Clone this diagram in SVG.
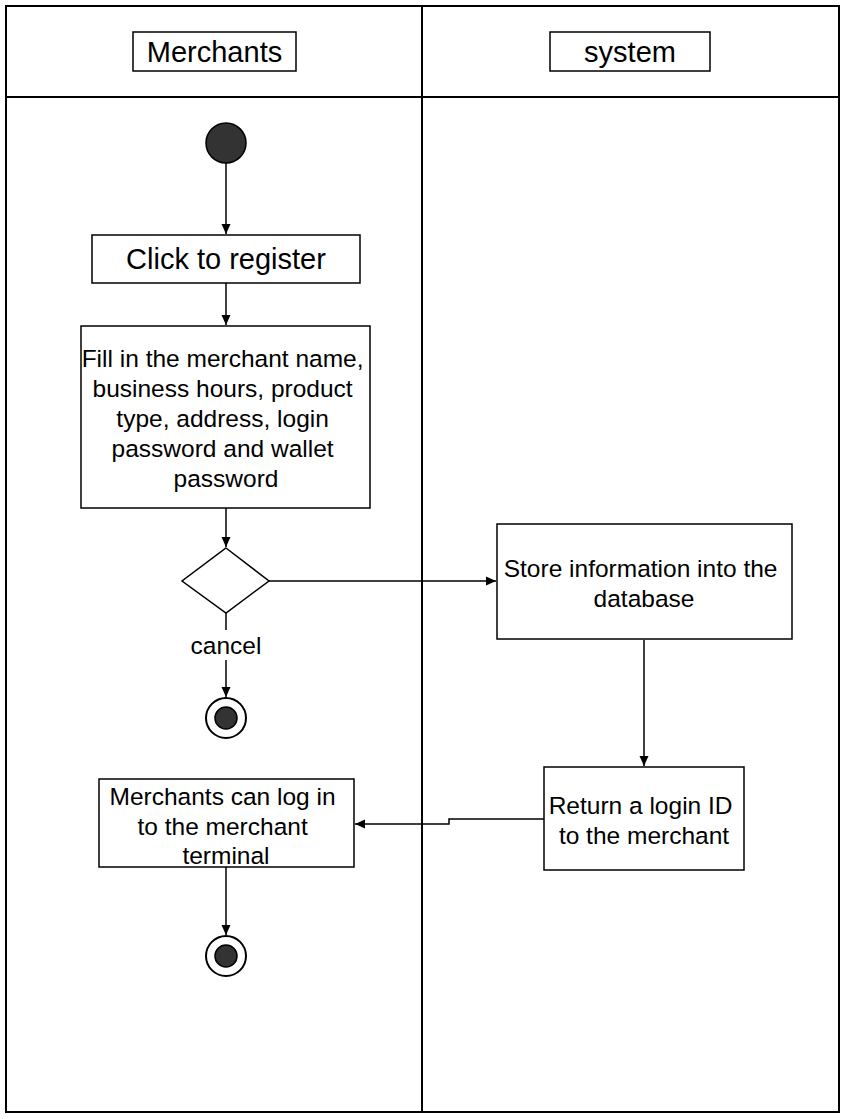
<svg xmlns="http://www.w3.org/2000/svg" width="844" height="1119" viewBox="0 0 844 1119">
<defs>
<style>
.ln{fill:none;stroke:#000;stroke-width:2}
.box{fill:#fff;stroke:#000;stroke-width:1.5}
.t{font-family:"Liberation Sans",Arial,sans-serif;fill:#000;text-anchor:middle}
.t20{font-size:24.5px}
.t26{font-size:29px}
.end{fill:#fff;stroke:#000;stroke-width:2}
.dot{fill:#333;stroke:#000;stroke-width:1.5}
.edge{fill:none;stroke:#000;stroke-width:1.5}
</style>
<marker id="arr" viewBox="0 0 10 10" refX="10" refY="5" markerWidth="10" markerHeight="10" markerUnits="userSpaceOnUse" orient="auto">
<path d="M0,0.5 L10,5 L0,9.5 Z" fill="#000"/>
</marker>
</defs>
<rect width="844" height="1119" fill="#fff"/>
<g id="lanes">
<rect x="6" y="6" width="833" height="1106" class="ln"/>
<line x1="422" y1="6" x2="422" y2="1112" class="ln"/>
<line x1="6" y1="97" x2="839" y2="97" class="ln"/>
</g>
<g id="lane-merchants">
<rect x="133" y="32" width="163" height="39" class="box"/>
<text x="214.5" y="61.5" class="t t26">Merchants</text>
</g>
<g id="lane-system">
<rect x="550" y="32" width="160" height="39" class="box"/>
<text x="630" y="61.5" class="t t26">system</text>
</g>
<g id="connectors">
<path d="M226,163 V234" class="edge" marker-end="url(#arr)"/>
<path d="M226,283 V325" class="edge" marker-end="url(#arr)"/>
<path d="M226,508 V547" class="edge" marker-end="url(#arr)"/>
<path d="M269,581 H496" class="edge" marker-end="url(#arr)"/>
<path d="M226,613 V697" class="edge" marker-end="url(#arr)"/>
<path d="M644,640 V766" class="edge" marker-end="url(#arr)"/>
<path d="M544,819 H449 V824 H355" class="edge" marker-end="url(#arr)"/>
<path d="M226,867 V935" class="edge" marker-end="url(#arr)"/>
<rect x="186" y="630" width="80" height="30" fill="#fff"/>
<text x="226" y="654" class="t t20">cancel</text>
</g>
<g id="start">
<circle cx="226" cy="143" r="20" class="dot"/>
</g>
<g id="click-register">
<rect x="92" y="235" width="268" height="48" class="box"/>
<text x="226" y="269" class="t t26">Click to register</text>
</g>
<g id="fill-in">
<rect x="81" y="326" width="289" height="182" class="box"/>
<text class="t t20">
<tspan x="226" y="367">Fill in the merchant name,</tspan>
<tspan x="226" y="397">business hours, product</tspan>
<tspan x="226" y="427">type, address, login</tspan>
<tspan x="226" y="457">password and wallet</tspan>
<tspan x="226" y="487">password</tspan>
</text>
</g>
<g id="decision">
<path d="M226,548 L269,581 L226,613 L182,581 Z" class="box"/>
</g>
<g id="end-cancel">
<circle cx="226" cy="718" r="20" class="end"/>
<circle cx="226" cy="718" r="11" class="dot"/>
</g>
<g id="store">
<rect x="497" y="524" width="295" height="115" class="box"/>
<text class="t t20">
<tspan x="644" y="577">Store information into the</tspan>
<tspan x="644" y="607">database</tspan>
</text>
</g>
<g id="return-id">
<rect x="544" y="767" width="200" height="103" class="box"/>
<text class="t t20">
<tspan x="644" y="814">Return a login ID</tspan>
<tspan x="644" y="844">to the merchant</tspan>
</text>
</g>
<g id="merchant-login">
<rect x="99" y="779" width="255" height="88" class="box"/>
<text class="t t20">
<tspan x="226" y="805">Merchants can log in</tspan>
<tspan x="226" y="835">to the merchant</tspan>
<tspan x="226" y="864">terminal</tspan>
</text>
</g>
<g id="end-final">
<circle cx="226" cy="956" r="20" class="end"/>
<circle cx="226" cy="956" r="11" class="dot"/>
</g>
</svg>
